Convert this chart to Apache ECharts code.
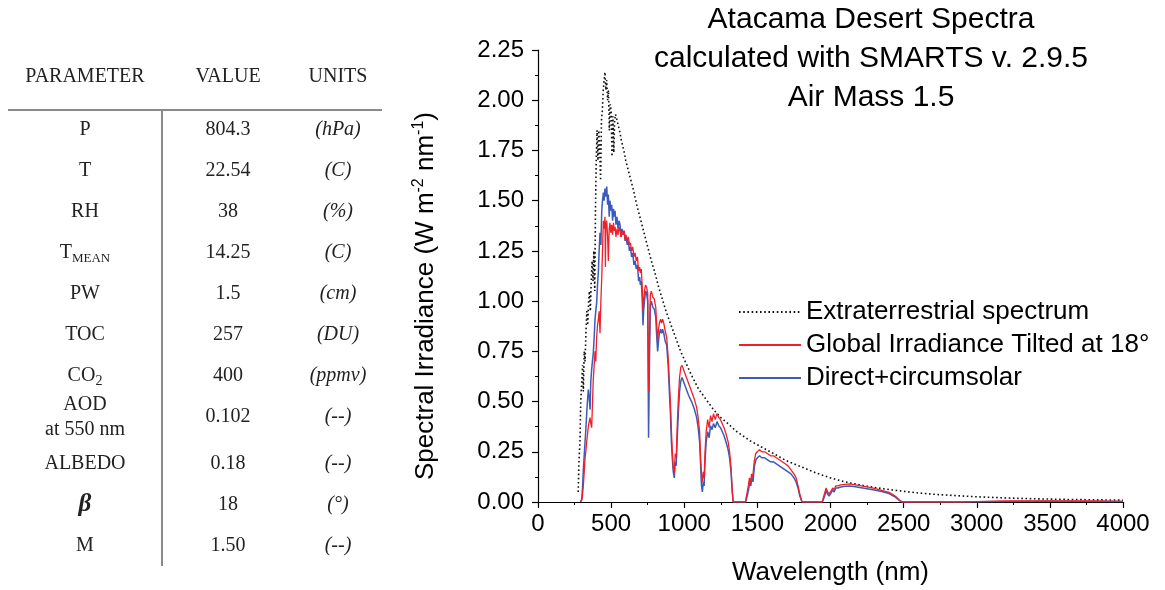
<!DOCTYPE html>
<html>
<head>
<meta charset="utf-8">
<script src="https://cdn.jsdelivr.net/npm/echarts@6/dist/echarts.min.js"></script>
<style>
html,body{margin:0;padding:0;background:#fff;}
#chart{width:1165px;height:590px;}
</style>
</head>
<body>
<div id="chart"></div>
<script>
// ---------- DATA ----------
const tableHeaders = ['PARAMETER', 'VALUE', 'UNITS'];
const tableParameters = ['P', 'T', 'RH', '{m|T}{s|MEAN}', 'PW', 'TOC', '{m|CO}{s2|2}', 'AOD\nat 550 nm', 'ALBEDO', '{b|β}', 'M'];
const tableValues = ['804.3', '22.54', '38', '14.25', '1.5', '257', '400', '0.102', '0.18', '18', '1.50'];
const tableUnits = ['(hPa)', '(C)', '(%)', '(C)', '(cm)', '(DU)', '(ppmv)', '(--)', '(--)', '(°)', '(--)'];

const titleLines = ['Atacama Desert Spectra', 'calculated with SMARTS v. 2.9.5', 'Air Mass 1.5'];
const seriesNames = ['Extraterrestrial spectrum', 'Global Irradiance Tilted at 18°', 'Direct+circumsolar'];

// wavelength (nm), irradiance (W m-2 nm-1)
const extraterrestrial = [
 [275,0.05],[280,0.20],[287,0.30],[292,0.50],[299,0.60],[305,0.68],[310,0.55],[316,0.75],[322,0.70],
 [328,0.85],[334,0.95],[340,0.88],[346,1.00],[352,1.05],[358,0.95],[364,1.10],[370,1.20],[376,1.10],
 [382,1.25],[388,1.05],[393,1.45],[398,1.70],[404,1.85],[410,1.70],[416,1.85],[422,1.75],[428,1.60],
 [434,1.90],[440,1.95],[446,2.05],[452,2.10],[458,2.14],[464,2.05],[470,2.10],[476,2.00],[482,2.05],
 [488,1.85],[494,1.98],[500,1.95],[506,1.72],[512,1.92],[518,1.74],[524,1.90],[530,1.93],[540,1.90],
 [550,1.87],[560,1.84],[570,1.80],[580,1.77],[590,1.74],[600,1.70],[625,1.63],[650,1.56],[675,1.48],
 [700,1.41],[725,1.34],[750,1.27],[775,1.20],[800,1.14],[825,1.07],[850,1.01],[875,0.95],[900,0.90],
 [925,0.85],[950,0.80],[975,0.75],[1000,0.71],[1050,0.63],[1100,0.56],[1150,0.51],[1200,0.46],
 [1250,0.42],[1300,0.39],[1350,0.355],[1400,0.33],[1450,0.305],[1500,0.285],[1550,0.265],[1600,0.245],
 [1650,0.225],[1700,0.205],[1750,0.19],[1800,0.175],[1850,0.16],[1900,0.145],[1950,0.132],[2000,0.12],
 [2100,0.10],[2200,0.085],[2300,0.072],[2400,0.062],[2500,0.053],[2600,0.045],[2700,0.039],[2800,0.034],
 [2900,0.030],[3000,0.026],[3200,0.020],[3400,0.016],[3600,0.013],[3800,0.011],[4000,0.009]
];

const globalTilted = [
 [290,0],[302,0.02],[310,0.08],[316,0.15],[322,0.22],[328,0.26],[333,0.30],[339,0.34],[345,0.38],[350,0.40],
 [356,0.42],[361,0.39],[367,0.37],[372,0.48],[378,0.61],[384,0.68],[390,0.75],[395,0.70],[401,0.82],[407,0.88],
 [413,0.91],[418,0.95],[424,0.84],[430,1.00],[436,1.12],[441,1.25],[447,1.40],[452,1.36],[458,1.42],[461,1.17],
 [464,1.38],[470,1.40],[476,1.32],[481,1.20],[487,1.36],[492,1.39],[498,1.34],[504,1.38],[510,1.33],[516,1.39],
 [521,1.35],[527,1.37],[533,1.32],[540,1.36],[547,1.33],[554,1.37],[561,1.35],[568,1.32],[575,1.35],[582,1.33],
 [589,1.35],[595,1.31],[602,1.33],[610,1.30],[618,1.32],[625,1.28],[632,1.29],[640,1.25],[648,1.27],[656,1.22],
 [664,1.24],[672,1.20],[680,1.22],[688,1.15],[695,1.17],[700,1.14],[706,1.16],[712,1.08],[718,0.95],[722,1.00],
 [728,1.05],[735,1.08],[742,1.07],[750,1.04],[756,0.55],[762,0.80],[768,1.03],[775,1.05],[785,1.02],[795,1.01],
 [805,0.97],[812,0.88],[818,0.80],[824,0.86],[830,0.89],[838,0.91],[845,0.89],[852,0.91],[860,0.89],[870,0.85],
 [880,0.82],[890,0.72],[898,0.60],[905,0.50],[912,0.36],[918,0.26],[925,0.17],[932,0.14],[938,0.24],[945,0.22],
 [952,0.38],[960,0.52],[968,0.62],[976,0.67],[985,0.68],[995,0.66],[1010,0.63],[1030,0.59],[1050,0.55],[1070,0.51],
 [1085,0.47],[1095,0.42],[1105,0.35],[1112,0.22],[1118,0.14],[1124,0.10],[1130,0.15],[1136,0.12],[1142,0.25],
 [1150,0.35],[1160,0.41],[1170,0.37],[1180,0.43],[1190,0.40],[1200,0.44],[1212,0.41],[1224,0.44],[1236,0.42],
 [1248,0.41],[1260,0.39],[1272,0.37],[1285,0.34],[1300,0.30],[1310,0.25],[1320,0.17],[1328,0.06],[1335,0],
 [1418,0],[1428,0.04],[1438,0.08],[1446,0.12],[1453,0.09],[1460,0.14],[1468,0.12],[1478,0.20],[1488,0.24],
 [1500,0.25],[1515,0.26],[1530,0.25],[1550,0.25],[1570,0.24],[1590,0.23],[1610,0.23],[1630,0.22],[1650,0.21],
 [1670,0.20],[1690,0.19],[1710,0.18],[1730,0.16],[1750,0.14],[1765,0.12],[1778,0.08],[1790,0.04],[1805,0],
 [1943,0],[1958,0.04],[1970,0.07],[1980,0.05],[1990,0.04],[2000,0.05],[2015,0.07],[2025,0.06],[2035,0.08],
 [2050,0.08],[2070,0.085],[2100,0.088],[2130,0.09],[2160,0.087],[2200,0.082],[2250,0.075],[2300,0.068],
 [2350,0.058],[2400,0.048],[2430,0.036],[2450,0.025],[2470,0.01],[2490,0],[2900,0],[3000,0.002],[3200,0.005],
 [3400,0.006],[3600,0.006],[3800,0.005],[4000,0.003]
];

const directCircumsolar = [
 [290,0],[299,0.01],[305,0.08],[310,0.16],[315,0.22],[321,0.29],[327,0.36],[333,0.44],[338,0.50],[344,0.56],
 [350,0.52],[356,0.46],[361,0.60],[367,0.66],[372,0.70],[378,0.74],[384,0.82],[390,0.91],[395,0.95],[401,0.99],
 [407,1.08],[413,1.15],[418,1.25],[424,1.34],[430,1.28],[436,1.45],[441,1.50],[447,1.54],[452,1.50],[458,1.56],
 [464,1.52],[470,1.57],[476,1.48],[481,1.53],[487,1.42],[492,1.50],[498,1.45],[504,1.48],[510,1.40],[516,1.46],
 [521,1.42],[527,1.45],[533,1.38],[540,1.42],[547,1.36],[554,1.40],[561,1.38],[568,1.32],[575,1.36],[582,1.33],
 [589,1.35],[595,1.30],[602,1.32],[610,1.28],[618,1.30],[625,1.25],[632,1.27],[640,1.22],[648,1.24],[656,1.18],
 [664,1.20],[672,1.16],[680,1.18],[688,1.10],[695,1.12],[700,1.08],[706,1.10],[712,1.02],[718,0.88],[722,0.95],
 [728,1.00],[735,1.05],[742,1.04],[750,1.00],[756,0.32],[762,0.70],[768,0.98],[775,1.00],[785,0.97],[795,0.96],
 [805,0.92],[812,0.82],[818,0.75],[824,0.80],[830,0.84],[838,0.86],[845,0.84],[852,0.86],[860,0.84],[870,0.80],
 [880,0.78],[890,0.68],[898,0.55],[905,0.45],[912,0.30],[918,0.22],[925,0.15],[932,0.12],[938,0.20],[945,0.18],
 [952,0.32],[960,0.45],[968,0.55],[976,0.60],[985,0.62],[995,0.60],[1010,0.57],[1030,0.53],[1050,0.50],[1070,0.46],
 [1085,0.42],[1095,0.37],[1105,0.30],[1112,0.18],[1118,0.08],[1124,0.05],[1130,0.10],[1136,0.08],[1142,0.20],
 [1150,0.30],[1160,0.35],[1170,0.32],[1180,0.38],[1190,0.36],[1200,0.39],[1212,0.37],[1224,0.40],[1236,0.38],
 [1248,0.37],[1260,0.35],[1272,0.33],[1285,0.30],[1300,0.26],[1310,0.22],[1320,0.15],[1328,0.05],[1335,0],
 [1420,0],[1430,0.03],[1440,0.06],[1448,0.10],[1455,0.08],[1462,0.12],[1470,0.10],[1480,0.18],[1490,0.21],
 [1500,0.22],[1515,0.23],[1530,0.22],[1550,0.22],[1570,0.21],[1590,0.20],[1610,0.20],[1630,0.19],[1650,0.18],
 [1670,0.17],[1690,0.16],[1710,0.15],[1730,0.14],[1750,0.12],[1765,0.10],[1778,0.07],[1790,0.03],[1805,0],
 [1945,0],[1960,0.03],[1972,0.06],[1980,0.04],[1990,0.03],[2000,0.04],[2015,0.06],[2025,0.05],[2035,0.07],
 [2050,0.07],[2070,0.075],[2100,0.078],[2130,0.08],[2160,0.077],[2200,0.072],[2250,0.066],[2300,0.06],
 [2350,0.052],[2400,0.042],[2430,0.03],[2450,0.02],[2470,0.008],[2490,0],[2900,0],[3000,0.001],[3200,0.003],
 [3400,0.004],[3600,0.004],[3800,0.003],[4000,0.002]
];

// ---------- TABLE GRAPHICS ----------
const serif = '"Liberation Serif", "DejaVu Serif", serif';
const sans = '"Liberation Sans", Arial, sans-serif';
const colX = [85, 228, 338];
const fs = 20;
const graphics = [];
tableHeaders.forEach((h, i) => {
  graphics.push({type: 'text', style: {text: h, x: colX[i], y: 77, align: 'center', verticalAlign: 'middle',
    fontSize: fs, fontFamily: serif, fill: '#222'}});
});
graphics.push({type: 'line', shape: {x1: 8, y1: 110, x2: 382, y2: 110}, style: {stroke: '#8a8a8e', lineWidth: 2}});
graphics.push({type: 'line', shape: {x1: 162, y1: 110, x2: 162, y2: 566}, style: {stroke: '#8a8a8e', lineWidth: 2}});
const richParam = {
  m: {fontSize: fs, fontFamily: serif, color: '#222', lineHeight: 24},
  s: {fontSize: 13, fontFamily: serif, color: '#222', verticalAlign: 'bottom', lineHeight: 24, padding: [6, 0, 0, 0]},
  s2: {fontSize: 14, fontFamily: serif, color: '#222', verticalAlign: 'bottom', lineHeight: 24, padding: [7, 0, 0, 0]},
  b: {fontSize: 25, fontFamily: serif, fontWeight: 'bold', fontStyle: 'italic', color: '#222'}
};
tableParameters.forEach((p, i) => {
  const y = 130 + 41 * i + (i > 7 ? 6 : 0);
  graphics.push({type: 'text', style: {text: p, x: colX[0], y: y, align: 'center', verticalAlign: 'middle',
    fontSize: fs, fontFamily: serif, fill: '#222', lineHeight: 25, rich: richParam}});
  graphics.push({type: 'text', style: {text: tableValues[i], x: colX[1], y: y, align: 'center', verticalAlign: 'middle',
    fontSize: fs, fontFamily: serif, fill: '#222'}});
  graphics.push({type: 'text', style: {text: tableUnits[i], x: colX[2], y: y, align: 'center', verticalAlign: 'middle',
    fontSize: fs, fontFamily: serif, fontStyle: 'italic', fill: '#222'}});
});

// ---------- CHART ----------
const chart = echarts.init(document.getElementById('chart'), null, {renderer: 'canvas'});
const axisCommon = {
  axisLine: {show: true, lineStyle: {color: '#000', width: 1.2}},
  axisTick: {show: true, inside: false, length: 6, lineStyle: {color: '#000', width: 1.2}},
  minorTick: {show: true, splitNumber: 2, length: 3, lineStyle: {color: '#000', width: 1}},
  splitLine: {show: false},
  axisLabel: {color: '#000', fontSize: 24, fontFamily: sans}
};
chart.setOption({
  backgroundColor: '#fff',
  animation: false,
  title: {
    text: titleLines.join('\n'),
    left: 866, top: -5, textAlign: 'center',
    textStyle: {fontSize: 30, fontWeight: 'normal', fontFamily: sans, color: '#000', lineHeight: 39}
  },
  legend: {
    orient: 'vertical', left: 738, top: 299, padding: 0,
    itemWidth: 62, itemHeight: 14, itemGap: 7,
    data: seriesNames,
    itemStyle: {opacity: 0},
    textStyle: {fontSize: 26, fontFamily: sans, color: '#000'}
  },
  grid: {left: 538, right: 42, top: 50, bottom: 88, containLabel: false, outerBoundsMode: 'none'},
  xAxis: Object.assign({}, axisCommon, {
    type: 'value', min: 0, max: 4000, interval: 500,
    name: 'Wavelength (nm)', nameLocation: 'middle', nameGap: 58,
    nameTextStyle: {fontSize: 26, fontFamily: sans, color: '#000'},
    axisLabel: Object.assign({}, axisCommon.axisLabel, {margin: 10, formatter: v => String(v)})
  }),
  yAxis: Object.assign({}, axisCommon, {
    type: 'value', min: 0, max: 2.25, interval: 0.25,
    name: '{n|Spectral Irradiance (W m}{s|-2}{n| nm}{s|-1}{n|)}',
    nameLocation: 'middle', nameGap: 97, nameRotate: 90,
    nameTextStyle: {
      fontSize: 26, fontFamily: sans, color: '#000', padding: [0, 40, 0, 0],
      rich: {
        n: {fontSize: 26, fontFamily: sans, color: '#000', lineHeight: 30},
        s: {fontSize: 16, fontFamily: sans, color: '#000', verticalAlign: 'top', lineHeight: 30, padding: [0, 0, 12, 0]}
      }
    },
    axisLabel: Object.assign({}, axisCommon.axisLabel, {margin: 14, formatter: v => v.toFixed(2)})
  }),
  graphic: graphics,
  series: [
    {name: seriesNames[0], type: 'line', data: extraterrestrial, symbol: 'none', z: 2,
     lineStyle: {color: '#111', width: 1.6, type: [1.6, 2.6]}, itemStyle: {color: '#111'}},
    {name: seriesNames[1], type: 'line', data: globalTilted, symbol: 'none', z: 4,
     lineStyle: {color: '#f0202a', width: 1.3}, itemStyle: {color: '#f0202a'}},
    {name: seriesNames[2], type: 'line', data: directCircumsolar, symbol: 'none', z: 3,
     lineStyle: {color: '#3b5cb8', width: 1.5}, itemStyle: {color: '#3b5cb8'}}
  ]
});
</script>
</body>
</html>
